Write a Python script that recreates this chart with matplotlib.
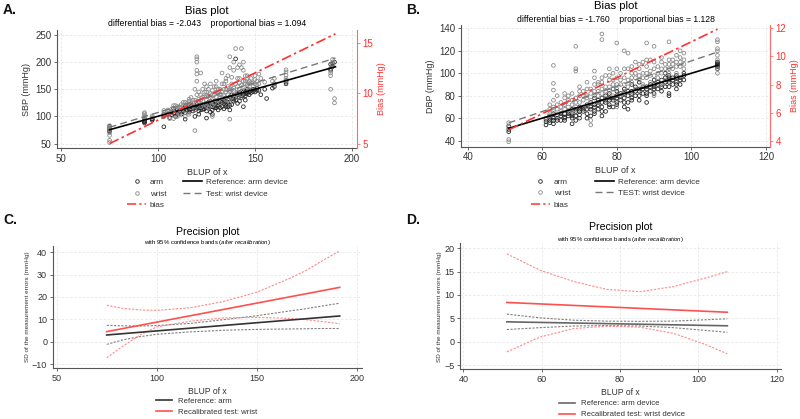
import matplotlib.pyplot as plt
from matplotlib.lines import Line2D

plt.rcParams['font.family'] = ['Liberation Sans', 'DejaVu Sans']
plt.rcParams['mathtext.fontset'] = 'custom'
plt.rcParams['mathtext.rm'] = 'Liberation Sans'
plt.rcParams['mathtext.it'] = 'Liberation Sans:italic'

# ---------------- panel A (SBP) scatter ----------------
armA_x = [75, 75, 75, 75, 75, 93, 93, 93, 93, 93, 97, 97, 97, 103, 103, 103, 103,
          106, 107, 108, 109, 110, 110, 108,
          112, 113, 114, 115, 116, 117, 118, 118, 116, 114,
          119, 120, 120, 121, 122, 122, 123, 124, 124, 125, 125, 121, 119,
          126, 126, 127, 128, 128, 129, 130, 130, 131, 132, 127, 129, 131,
          133, 133, 134, 135, 135, 136, 137, 137, 138, 139, 139, 140, 136, 138, 137, 134,
          140, 141, 141, 142, 142, 143, 144, 144, 145, 145, 146, 147, 143, 146, 141,
          148, 149, 150, 151, 152, 153, 156, 155, 159, 160, 160, 166, 166, 166,
          189, 189, 190, 190, 191, 189]
armA_y = [72, 76, 79, 82, 74, 88, 90, 92, 95, 91, 93, 96, 95, 81, 101, 104, 100,
          98, 103, 106, 100, 108, 112, 115,
          104, 110, 95, 112, 108, 118, 110, 114, 120, 107,
          112, 115, 118, 110, 116, 120, 113, 118, 122, 110, 97, 104, 100,
          115, 120, 124, 112, 118, 122, 116, 126, 120, 124, 108, 128, 112,
          118, 126, 130, 122, 128, 132, 120, 126, 134, 128, 138, 130, 118, 122, 112, 114,
          206, 136, 140, 128, 144, 135, 140, 118, 146, 138, 142, 145, 146, 150, 124,
          148, 150, 145, 152, 148, 140, 133, 150, 152, 155, 160, 160, 163, 166,
          185, 188, 192, 198, 200, 196]
# denser part of the arm cloud
armA_x2 = [105, 107, 109, 111, 113, 115, 117, 119, 121, 123, 125, 127, 129, 131, 133, 135,
           137, 139, 141, 143, 145, 147, 149, 151, 120, 122, 124, 126, 128, 130, 132, 134,
           136, 138, 140, 142, 144, 146, 148, 150, 118, 116, 114, 112, 110, 125, 135, 145,
           128, 132]
armA_y2 = [104, 108, 106, 110, 114, 116, 114, 118, 120, 122, 124, 118, 116, 126, 130, 134,
           136, 132, 142, 138, 142, 140, 146, 148, 122, 112, 114, 126, 126, 120, 128, 124,
           126, 140, 136, 140, 145, 146, 144, 150, 116, 112, 118, 108, 104, 116, 118, 130,
           104, 116]
wristA_x = [75, 75, 75, 75, 75, 75, 75, 75, 93, 93, 93, 93, 93, 97, 97, 103, 103, 103, 103,
            105, 106, 107, 108, 109, 110, 111, 112, 110, 106, 108,
            113, 114, 115, 116, 116, 117, 118, 118, 119, 119, 114, 117,
            120, 120, 120, 120, 120, 120,
            121, 121, 122, 122, 123, 123, 124, 124, 125, 125, 126, 126, 122, 124, 125, 121,
            127, 127, 128, 128, 129, 129, 130, 130, 131, 131, 132, 132, 133, 133, 128, 130,
            134, 134, 135, 135, 136, 136, 137, 137, 137, 137, 137, 138, 138, 139, 139, 140, 140,
            136, 138, 135,
            141, 141, 142, 142, 143, 143, 143, 144, 144, 145, 145, 146, 146, 147, 147, 142, 141, 144,
            148, 149, 150, 150, 151, 152, 152, 153, 155, 159, 160, 160,
            166, 166, 166, 166, 166, 189, 189, 189, 190, 190, 191, 191, 190, 189]
wristA_y = [52, 56, 65, 70, 75, 78, 80, 83, 96, 99, 102, 105, 107, 98, 101, 100, 104, 108, 111,
            102, 110, 114, 96, 112, 118, 106, 115, 100, 96, 120,
            120, 110, 124, 104, 128, 116, 120, 130, 74, 112, 100, 135,
            165, 178, 185, 200, 206, 210,
            125, 132, 118, 140, 128, 150, 122, 136, 130, 145, 115, 138, 180, 160, 120, 145,
            128, 142, 132, 148, 124, 155, 136, 145, 130, 150, 140, 125, 135, 160, 100, 165,
            138, 150, 130, 145, 140, 175, 95, 125, 152, 190, 210, 135, 160, 148, 185, 140, 225,
            130, 172, 165,
            145, 170, 150, 162, 225, 140, 190, 155, 185, 148, 165, 158, 175, 160, 150, 195, 135, 200,
            162, 155, 168, 175, 165, 160, 178, 170, 163, 165, 170, 160,
            170, 176, 182, 186, 165, 150, 180, 188, 195, 200, 125, 133, 205, 175]
wristA_x2 = [105, 107, 109, 111, 113, 115, 117, 119, 121, 123, 125, 127, 129, 131, 133, 135,
             137, 139, 141, 143, 145, 147, 149, 151, 120, 122, 124, 126, 128, 130, 132, 134,
             136, 138, 140, 142, 144, 146, 148, 150, 118, 116, 114, 112, 110, 125, 135, 145,
             128, 132, 127, 133, 139, 141, 119]
wristA_y2 = [112, 106, 120, 118, 126, 118, 124, 130, 128, 136, 138, 134, 140, 142, 145, 150,
             148, 152, 155, 158, 160, 165, 162, 158, 140, 130, 145, 150, 140, 155, 150, 160,
             155, 150, 160, 170, 165, 168, 170, 160, 125, 132, 126, 122, 108, 155, 170, 175,
             120, 135, 160, 180, 200, 190, 150]

# fitted lines A (read at the ends of the x range)
lineA_x = [75, 191.5]
refA_y = [75.5, 191.5]
testA_y = [80.0, 207.5]
biasA_y = [5.0, 15.95]

# ---------------- panel B (DBP) scatter ----------------
armB_x = [51, 51, 51,
          61, 61, 62, 62, 62, 63, 63, 63, 64, 64, 65, 65, 66, 66, 61, 63,
          67, 67, 68, 68, 68, 69, 69, 70, 70, 70, 69, 68,
          71, 71, 72, 72, 73, 73, 74, 74, 74, 75, 75, 75, 73, 72,
          76, 76, 76, 77, 77, 78, 78, 78, 79, 79, 80, 80, 80, 77, 79,
          81, 81, 82, 82, 82, 83, 83, 84, 84, 85, 85, 83, 84,
          86, 86, 87, 87, 88, 88, 89, 89, 90, 90, 86, 88, 90,
          91, 91, 92, 92, 93, 93, 94, 94, 94, 94, 95, 95, 93,
          96, 96, 97, 97, 98, 98, 96,
          107, 107, 107, 107, 107, 107]
armB_y = [48, 50, 53,
          54, 57, 56, 60, 62, 58, 61, 55, 60, 63, 58, 62, 64, 61, 59, 64,
          62, 66, 55, 60, 64, 58, 68, 63, 66, 70, 62, 68,
          66, 70, 64, 72, 68, 74, 66, 70, 78, 72, 76, 68, 62, 60,
          62, 70, 78, 74, 80, 72, 76, 82, 70, 78, 74, 80, 84, 66, 86,
          76, 82, 70, 78, 86, 74, 80, 78, 84, 80, 88, 68, 90,
          76, 84, 82, 88, 80, 86, 84, 90, 82, 88, 92, 74, 94,
          86, 92, 84, 90, 88, 96, 80, 82, 92, 98, 94, 90, 100,
          92, 98, 90, 96, 94, 100, 86,
          104, 106, 108, 109, 110, 107]
armB_x2 = [62, 63, 64, 65, 66, 67, 68, 69, 70, 71, 72, 73, 74, 75, 76, 77, 78, 79, 80, 81,
           82, 83, 84, 85, 86, 87, 88, 89, 90, 91, 92, 93, 94, 94, 95, 96, 97, 98, 76, 80,
           84, 88, 92, 96, 66, 70, 74, 78, 82, 86, 90, 94]
armB_y2 = [58, 60, 58, 64, 60, 64, 62, 66, 68, 68, 68, 70, 72, 74, 74, 76, 78, 76, 78, 80,
           82, 84, 82, 84, 86, 86, 88, 88, 90, 90, 94, 92, 94, 96, 96, 96, 94, 98, 66, 72,
           76, 82, 88, 90, 58, 60, 64, 70, 74, 80, 86, 88]
wristB_x = [51, 51, 51, 51,
            61, 62, 62, 63, 63, 63, 63, 63, 64, 64, 65, 65, 66, 66, 62, 64,
            67, 67, 68, 68, 69, 69, 69, 69, 69, 70, 70, 68,
            71, 71, 72, 72, 72, 73, 73, 73, 73, 74, 74, 74, 75, 75, 75, 72,
            76, 76, 76, 76, 77, 77, 77, 78, 78, 79, 79, 79, 80, 80, 80, 80, 78,
            81, 81, 82, 82, 82, 83, 83, 83, 84, 84, 85, 85, 85, 81,
            86, 86, 87, 87, 88, 88, 88, 89, 89, 90, 90, 90, 87, 89,
            91, 91, 92, 92, 93, 93, 94, 94, 94, 95, 95, 92,
            96, 96, 97, 97, 98, 98, 97,
            107, 107, 107, 107, 107, 107, 107, 107]
wristB_y = [39, 41, 52, 56,
            60, 64, 68, 107, 91, 85, 66, 70, 72, 62, 66, 74, 68, 78, 72, 80,
            70, 76, 66, 82, 102, 104, 124, 70, 78, 74, 84, 72,
            76, 84, 70, 80, 92, 54, 58, 76, 86, 80, 96, 102, 74, 84, 90, 86,
            135, 130, 82, 92, 78, 88, 98, 84, 94, 80, 90, 100, 127, 86, 96, 70, 104,
            90, 100, 84, 96, 120, 88, 104, 118, 92, 100, 86, 96, 110, 80,
            94, 104, 90, 100, 127, 96, 106, 92, 102, 98, 124, 80, 110, 112,
            96, 106, 100, 110, 104, 94, 128, 108, 100, 104, 112, 90,
            100, 110, 106, 114, 104, 112, 120,
            100, 104, 112, 116, 120, 122, 128, 130]
wristB_x2 = [62, 63, 64, 65, 66, 67, 68, 69, 70, 71, 72, 73, 74, 75, 76, 77, 78, 79, 80, 81,
             82, 83, 84, 85, 86, 87, 88, 89, 90, 91, 92, 93, 94, 95, 96, 97, 98, 74, 78, 82,
             86, 90, 94, 70, 66, 76, 80, 84, 88, 92, 96, 98, 75, 79]
wristB_y2 = [62, 76, 68, 70, 72, 80, 76, 74, 80, 80, 78, 82, 84, 80, 86, 84, 88, 86, 90, 94,
             90, 94, 96, 100, 98, 96, 100, 98, 104, 100, 104, 108, 104, 108, 106, 110, 108, 90,
             98, 104, 108, 110, 112, 88, 82, 96, 104, 106, 112, 114, 116, 118, 92, 94]

lineB_x = [51, 107]
refB_y = [51, 107]
testB_y = [55.8, 118.9]
biasB_y = [4.77, 11.94]

# ---------------- panel C / D precision ----------------
precC_x = [75, 83, 92, 100, 117, 133, 150, 167, 175, 183, 191.5]
refC_sd = [3.0, 11.5]          # at the ends of precC_x
testC_sd = [4.5, 24.3]
testC_hi = [16.3, 14.9, 14.2, 14.0, 15.2, 17.9, 22.1, 28.5, 32.0, 36.3, 40.6]
testC_lo = [-7.2, -2.0, 3.2, 6.6, 9.2, 10.6, 10.9, 10.4, 9.8, 9.0, 8.0]
refC_hi = [7.3, 7.1, 7.0, 7.2, 8.2, 9.8, 11.6, 13.8, 14.8, 16.0, 17.2]
refC_lo = [-1.2, 0.8, 2.3, 3.3, 4.4, 5.1, 5.5, 5.7, 5.8, 5.9, 5.9]

precD_x = [51.1, 59.6, 68.1, 76.6, 85.1, 93.6, 102.1, 107.4]
refD_sd = [4.25, 3.4]
testD_sd = [8.4, 6.3]
testD_hi = [18.8, 15.3, 12.9, 11.2, 10.7, 11.8, 13.7, 15.0]
testD_lo = [-2.2, 1.0, 2.8, 3.3, 3.1, 1.8, -0.7, -2.6]
refD_hi = [5.9, 5.1, 4.6, 4.4, 4.35, 4.4, 4.7, 4.9]
refD_lo = [2.6, 3.0, 3.35, 3.45, 3.35, 3.0, 2.4, 2.0]

W, H = 800, 419
RED = '#ff3030'
LRED = '#ff8a8a'
TXT = '#333333'
FS = 7.0
LFS = 5.9

fig = plt.figure(figsize=(8, 4.19), dpi=100)


def box(l, t, r, b):
    return [l / W, 1 - b / H, (r - l) / W, (b - t) / H]


def fy(y):
    return 1 - y / H


def style(ax, xlim, ylim, xticks, yticks, fs):
    ax.set_xlim(xlim)
    ax.set_ylim(ylim)
    ax.set_xticks(xticks)
    ax.set_yticks(yticks)
    ax.grid(True, color='#e6e6e6', lw=0.6, ls=(0, (3, 2)))
    ax.set_axisbelow(True)
    for s in ['top', 'right']:
        ax.spines[s].set_visible(False)
    for s in ['left', 'bottom']:
        ax.spines[s].set_color('#555555')
        ax.spines[s].set_linewidth(0.8)
    ax.tick_params(labelsize=fs, colors='#555555', labelcolor=TXT,
                   length=2.5, width=0.6, pad=1.5)


def bias_panel(rect, xlim, ylim, xt, yt, ylim2, yt2,
               ax_, ay_, wx_, wy_, lx, ry, ty, by, ylab, testlab,
               tl_y, st_y, sub, leg_anchor, colsp):
    ax = fig.add_axes(box(*rect))
    style(ax, xlim, ylim, xt, yt, FS)
    ax.scatter(ax_, ay_, s=7, facecolors='none', edgecolors='#262626', linewidths=0.6, zorder=2)
    ax.scatter(wx_, wy_, s=7, facecolors='none', edgecolors='#8c8c8c', linewidths=0.6, zorder=2)
    ax.plot(lx, ry, color='black', lw=1.2, zorder=4)
    ax.plot(lx, ty, color='#777777', lw=1.0, ls=(0, (5, 3)), zorder=4)
    ax.set_ylabel(ylab, fontsize=6.5, color=TXT, labelpad=3)
    ax.set_xlabel('BLUP of x', fontsize=6.5, color=TXT, labelpad=3)
    ax2 = ax.twinx()
    ax2.set_ylim(ylim2)
    ax2.set_yticks(yt2)
    for s in ['top', 'left', 'bottom']:
        ax2.spines[s].set_visible(False)
    ax2.spines['right'].set_color('#ff6b6b')
    ax2.spines['right'].set_linewidth(0.8)
    ax2.tick_params(labelsize=FS, colors='#ff6b6b', labelcolor=RED,
                    length=2.5, width=0.6, pad=1.5)
    ax2.plot(lx, by, color=RED, lw=1.2, ls=(0, (6, 2, 1.5, 2)), zorder=5)
    ax2.set_ylabel('Bias (mmHg)', fontsize=6.5, color=RED, labelpad=3)
    cx = (rect[0] + rect[2]) / 2 / W
    fig.text(cx, fy(tl_y), 'Bias plot', ha='center', va='center', fontsize=8.2, color='black')
    fig.text(cx, fy(st_y), sub, ha='center', va='center', fontsize=6.2, color='black')
    hs = [Line2D([], [], ls='none', marker='o', ms=2.6, mfc='none', mec='#262626', mew=0.6),
          Line2D([], [], ls='none', marker='o', ms=2.6, mfc='none', mec='#8c8c8c', mew=0.6),
          Line2D([], [], color=RED, lw=1.1, ls=(0, (6, 2, 1.5, 2))),
          Line2D([], [], color='black', lw=1.2),
          Line2D([], [], color='#777777', lw=1.0, ls=(0, (5, 3)))]
    labs = ['arm', 'wrist', 'bias', 'Reference: arm device', testlab]
    fig.legend(hs, labs, loc='upper center', bbox_to_anchor=leg_anchor, ncol=2,
               frameon=False, fontsize=LFS, handlelength=2.4, handletextpad=0.4,
               labelspacing=0.45, columnspacing=colsp, borderpad=0, borderaxespad=0,
               labelcolor=TXT)


bias_panel((57, 30, 357, 148), (47.9, 202.6), (41.9, 259.2), [50, 100, 150, 200],
           [50, 100, 150, 200, 250], (4.56, 16.33), [5, 10, 15],
           armA_x + armA_x2, armA_y + armA_y2, wristA_x + wristA_x2, wristA_y + wristA_y2,
           lineA_x, refA_y, testA_y, biasA_y,
           'SBP (mmHg)', 'Test: wrist device', 11, 24,
           'differential bias = -2.043    proportional bias = 1.094',
           (207 / W, fy(178.5)), 2.0)

bias_panel((461, 25, 770, 146.7), (38.2, 121.1), (34.6, 143.0), [40, 60, 80, 100, 120],
           [40, 60, 80, 100, 120, 140], (3.57, 12.24), [4, 6, 8, 10, 12],
           armB_x + armB_x2, armB_y + armB_y2, wristB_x + wristB_x2, wristB_y + wristB_y2,
           lineB_x, refB_y, testB_y, biasB_y,
           'DBP (mmHg)', 'TEST: wrist device', 6, 19,
           'differential bias = -1.760    proportional bias = 1.128',
           (615 / W, fy(178)), 3.0)


def prec_panel(rect, xlim, ylim, xt, yt, px, rsd, tsd, thi, tlo, rhi, rlo,
               tl_y, st_y, labs, leg_anchor, refcol):
    ax = fig.add_axes(box(*rect))
    style(ax, xlim, ylim, xt, yt, 6.5)
    ends = [px[0], px[-1]]
    dot = (0, (2, 1.3))
    ax.plot(px, rhi, color='#808080', lw=0.8, ls=dot)
    ax.plot(px, rlo, color='#808080', lw=0.8, ls=dot)
    ax.plot(px, thi, color=LRED, lw=0.8, ls=dot)
    ax.plot(px, tlo, color=LRED, lw=0.8, ls=dot)
    ax.plot(ends, rsd, color=refcol, lw=1.2)
    ax.plot(ends, tsd, color='#ff5050', lw=1.2)
    ax.set_xlabel('BLUP of x', fontsize=6.2, color=TXT, labelpad=3)
    ax.set_ylabel('SD of the measurement errors (mmHg)', fontsize=4.6, color=TXT, labelpad=1.5)
    cx = (rect[0] + rect[2]) / 2 / W
    fig.text(cx, fy(tl_y), 'Precision plot', ha='center', va='center', fontsize=7.6, color='black')
    fig.text(cx, fy(st_y), r'with 95% confidence bands ($\mathit{after\ recalibration}$)',
             ha='center', va='center', fontsize=4.3, color='black')
    hs = [Line2D([], [], color=refcol, lw=1.2), Line2D([], [], color='#ff5050', lw=1.2)]
    fig.legend(hs, labs, loc='upper center', bbox_to_anchor=leg_anchor, ncol=1,
               frameon=False, fontsize=5.6, handlelength=2.0, handletextpad=0.8,
               labelspacing=0.45, borderpad=0, borderaxespad=0, labelcolor=TXT)


prec_panel((52.7, 246, 361.7, 368.3), (48, 202.5), (-11.9, 42.8), [50, 100, 150, 200],
           [-10, 0, 10, 20, 30, 40], precC_x, refC_sd, testC_sd, testC_hi, testC_lo,
           refC_hi, refC_lo, 231.5, 242, ['Reference: arm', 'Recalibrated test: wrist'],
           (207 / W, fy(397.5)), '#333333')

prec_panel((460, 243.3, 781, 369.3), (39.15, 121.1), (-5.92, 21.07), [40, 60, 80, 100, 120],
           [-5, 0, 5, 10, 15, 20], precD_x, refD_sd, testD_sd, testD_hi, testD_lo,
           refD_hi, refD_lo, 226.5, 239.3,
           ['Reference: arm device', 'Recalibrated test: wrist device'],
           (622 / W, fy(400)), '#666666')

for lab, x, y in [('A.', 3, 10), ('B.', 406, 10), ('C.', 3, 220), ('D.', 406, 220)]:
    fig.text(x / W, fy(y), lab, fontsize=10, fontweight='bold', ha='left', va='center',
             color='#111111')

fig.savefig('out.png', dpi=100)
